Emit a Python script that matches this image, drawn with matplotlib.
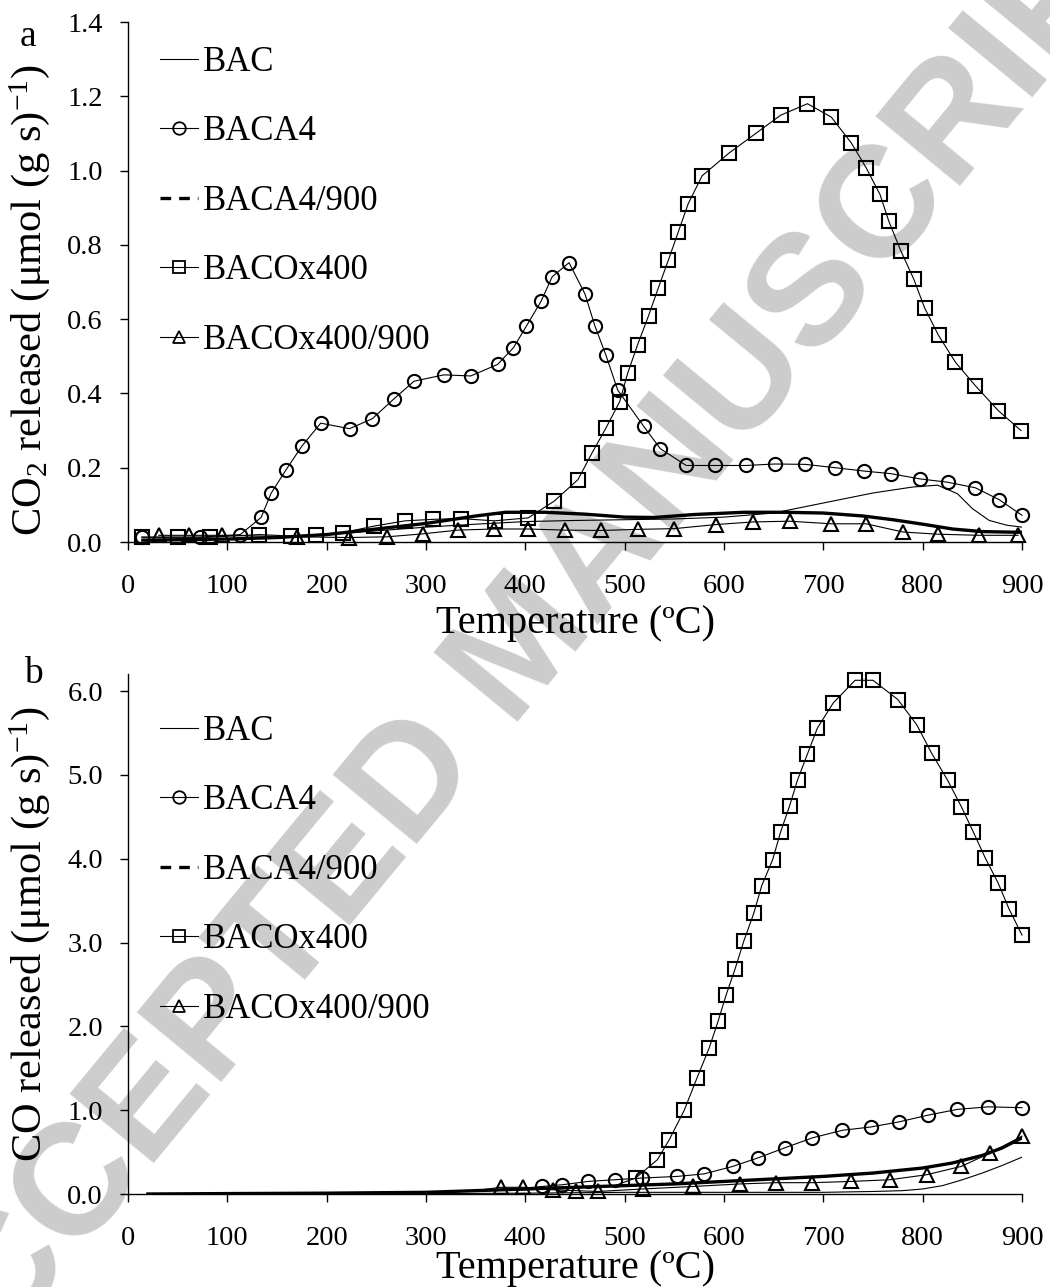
import matplotlib
matplotlib.use("Agg")
import matplotlib.pyplot as plt
from matplotlib.lines import Line2D
from matplotlib.ticker import FixedLocator, FormatStrFormatter

plt.rcParams['font.family'] = ['Liberation Serif', 'DejaVu Serif']
plt.rcParams['mathtext.fontset'] = 'custom'
plt.rcParams['mathtext.rm'] = 'Liberation Serif'
plt.rcParams['mathtext.it'] = 'Liberation Serif:italic'

# ---------------- Panel a (CO2) ----------------
a_bac_T = [15, 50, 100, 150, 200, 250, 300, 350, 400, 450, 500, 550, 600, 650, 700, 750, 790, 815, 835, 850, 867, 885, 900]
a_bac_v = [0.005, 0.006, 0.008, 0.012, 0.02, 0.03, 0.04, 0.048, 0.055, 0.058, 0.06, 0.062, 0.067, 0.078, 0.105, 0.132, 0.148, 0.153, 0.13, 0.09, 0.058, 0.045, 0.04]

a_baca4_T = [14, 72, 113, 134, 144, 159, 175, 194, 223, 246, 268, 288, 318, 345, 372, 388, 401, 416, 427, 444, 460, 470, 481, 493, 519, 536, 562, 591, 622, 651, 682, 712, 741, 768, 797, 825, 853, 877, 900]
a_baca4_v = [0.013, 0.013, 0.02, 0.066, 0.131, 0.194, 0.258, 0.320, 0.305, 0.332, 0.386, 0.433, 0.450, 0.447, 0.478, 0.523, 0.581, 0.649, 0.714, 0.752, 0.668, 0.582, 0.504, 0.409, 0.312, 0.251, 0.206, 0.206, 0.206, 0.210, 0.209, 0.200, 0.191, 0.184, 0.170, 0.161, 0.146, 0.114, 0.072]

a_baca4900_T = [15, 100, 150, 200, 250, 300, 350, 380, 420, 460, 500, 530, 570, 620, 660, 700, 740, 770, 800, 830, 860, 900]
a_baca4900_v = [0.005, 0.008, 0.012, 0.02, 0.035, 0.05, 0.07, 0.08, 0.08, 0.075, 0.067, 0.066, 0.074, 0.08, 0.08, 0.078, 0.07, 0.06, 0.048, 0.035, 0.028, 0.026]

a_bacox_T = [14, 50, 83, 132, 164, 189, 216, 248, 279, 307, 335, 369, 403, 429, 453, 467, 481, 495, 503, 513, 524, 534, 544, 554, 564, 578, 605, 632, 657, 684, 708, 728, 743, 757, 766, 778, 791, 802, 816, 833, 853, 876, 899]
a_bacox_v = [0.013, 0.013, 0.013, 0.02, 0.016, 0.02, 0.025, 0.043, 0.057, 0.061, 0.063, 0.057, 0.065, 0.110, 0.168, 0.239, 0.306, 0.378, 0.454, 0.531, 0.609, 0.685, 0.759, 0.835, 0.911, 0.986, 1.047, 1.100, 1.149, 1.180, 1.144, 1.075, 1.008, 0.936, 0.863, 0.784, 0.708, 0.630, 0.556, 0.484, 0.421, 0.354, 0.300]

a_bacox900_T = [31, 61, 95, 170, 222, 261, 297, 332, 368, 403, 440, 476, 513, 550, 592, 629, 666, 708, 743, 780, 815, 857, 896]
a_bacox900_v = [0.018, 0.018, 0.018, 0.014, 0.012, 0.014, 0.022, 0.032, 0.035, 0.035, 0.032, 0.031, 0.034, 0.036, 0.047, 0.054, 0.056, 0.049, 0.049, 0.027, 0.021, 0.018, 0.018]

# ---------------- Panel b (CO) ----------------
b_bac_T = [20, 200, 400, 500, 600, 700, 750, 780, 800, 820, 840, 860, 880, 900]
b_bac_v = [0.0, 0.0, 0.01, 0.02, 0.02, 0.02, 0.03, 0.04, 0.06, 0.1, 0.17, 0.25, 0.34, 0.44]

b_baca4_T = [20, 200, 300, 380, 417, 437, 463, 490, 517, 553, 580, 609, 634, 661, 689, 719, 748, 776, 805, 835, 866, 900]
b_baca4_v = [0.0, 0.01, 0.02, 0.05, 0.09, 0.11, 0.15, 0.17, 0.19, 0.21, 0.24, 0.33, 0.43, 0.55, 0.67, 0.76, 0.80, 0.86, 0.94, 1.01, 1.04, 1.03]
b_baca4_first_marker = 4

b_baca4900_T = [20, 100, 200, 300, 350, 400, 450, 500, 550, 600, 650, 700, 750, 800, 830, 860, 880, 900]
b_baca4900_v = [0.0, 0.005, 0.01, 0.02, 0.04, 0.06, 0.08, 0.1, 0.12, 0.15, 0.18, 0.21, 0.25, 0.31, 0.37, 0.46, 0.55, 0.67]

b_bacox_T = [20, 100, 200, 300, 400, 450, 490, 511, 533, 545, 560, 573, 585, 594, 602, 611, 620, 630, 638, 649, 657, 666, 674, 684, 694, 710, 732, 750, 775, 794, 809, 825, 839, 851, 863, 876, 887, 900]
b_bacox_v = [0.0, 0.0, 0.01, 0.02, 0.05, 0.07, 0.1, 0.19, 0.41, 0.65, 1.0, 1.39, 1.74, 2.06, 2.37, 2.68, 3.02, 3.35, 3.68, 3.99, 4.32, 4.63, 4.94, 5.25, 5.56, 5.86, 6.13, 6.13, 5.90, 5.60, 5.26, 4.94, 4.62, 4.32, 4.01, 3.71, 3.40, 3.09]
b_bacox_first_marker = 7

b_bacox900_T = [20, 200, 300, 350, 375, 398, 428, 451, 473, 518, 569, 616, 652, 689, 728, 767, 804, 839, 868, 900]
b_bacox900_v = [0.0, 0.01, 0.02, 0.04, 0.08, 0.08, 0.05, 0.04, 0.03, 0.06, 0.09, 0.12, 0.135, 0.135, 0.15, 0.17, 0.23, 0.33, 0.49, 0.69]
b_bacox900_first_marker = 4

labels = ['BAC', 'BACA4', 'BACA4/900', 'BACOx400', 'BACOx400/900']
x_ticks = [0, 100, 200, 300, 400, 500, 600, 700, 800, 900]
a_yticks = [0.0, 0.2, 0.4, 0.6, 0.8, 1.0, 1.2, 1.4]
b_yticks = [0.0, 1.0, 2.0, 3.0, 4.0, 5.0, 6.0]

W, H = 1050, 1287
fig = plt.figure(figsize=(W / 100, H / 100), dpi=100)

# watermark
fig.text(0.50, 0.495, 'ACCEPTED MANUSCRIPT', rotation=50.5, color='#cccccc',
         fontsize=114, fontweight='bold', family=['Liberation Sans', 'DejaVu Sans'],
         ha='center', va='center', zorder=-5, rotation_mode='anchor')

ax_a = fig.add_axes([128 / W, 1 - 542 / H, (1022 - 128) / W, 520 / H])
ax_b = fig.add_axes([128 / W, 1 - 1194 / H, (1022 - 128) / W, 520 / H])

mk = dict(mfc='none', mec='black', mew=1.5, ms=9.5, clip_on=False)
thin = 0.8
thick = 2.4


def draw(ax, d, firsts):
    (bT, bv), (cT, cv), (dT, dv), (sT, sv), (tT, tv) = d
    ax.plot(bT, bv, color='black', lw=thin)
    ax.plot(dT, dv, color='black', lw=thick)
    ax.plot(tT, tv, color='black', lw=thin, marker='^', markevery=slice(firsts[2], None), **mk)
    ax.plot(cT, cv, color='black', lw=thin, marker='o', markevery=slice(firsts[0], None), **mk)
    ax.plot(sT, sv, color='black', lw=thin, marker='s', markevery=slice(firsts[1], None), **mk)


draw(ax_a, [(a_bac_T, a_bac_v), (a_baca4_T, a_baca4_v), (a_baca4900_T, a_baca4900_v),
            (a_bacox_T, a_bacox_v), (a_bacox900_T, a_bacox900_v)], (0, 0, 0))
draw(ax_b, [(b_bac_T, b_bac_v), (b_baca4_T, b_baca4_v), (b_baca4900_T, b_baca4900_v),
            (b_bacox_T, b_bacox_v), (b_bacox900_T, b_bacox900_v)],
     (b_baca4_first_marker, b_bacox_first_marker, b_bacox900_first_marker))

lmk = dict(mfc='none', mec='black', mew=1.3, ms=9)
handles = [
    Line2D([], [], color='black', lw=thin),
    Line2D([], [], color='black', lw=thin, marker='o', **lmk),
    Line2D([], [], color='black', lw=thick, ls=(0, (3.2, 2.4))),
    Line2D([], [], color='black', lw=thin, marker='s', **lmk),
    Line2D([], [], color='black', lw=thin, marker='^', **lmk),
]

for ax, ylim, yt, ylabel, letter, lx, ly, leg_top, ylab_y, xlab_pad in [
    (ax_a, (0, 1.4), a_yticks, r'CO$_2$ released (μmol (g s)$^{\mathrm{-1}}$)', 'a', 28, 37, 46, 0.465, 4),
    (ax_b, (0, 6.205), b_yticks, r'CO released (μmol (g s)$^{\mathrm{-1}}$)', 'b', 33, 674, 715, 0.50, -1),
]:
    ax.set_facecolor('none')
    ax.set_xlim(0, 900)
    ax.set_ylim(*ylim)
    ax.xaxis.set_major_locator(FixedLocator(x_ticks))
    ax.yaxis.set_major_locator(FixedLocator(yt))
    ax.yaxis.set_major_formatter(FormatStrFormatter('%.1f'))
    for s in ('top', 'right'):
        ax.spines[s].set_visible(False)
    for s in ('left', 'bottom'):
        ax.spines[s].set_linewidth(1.0)
    ax.tick_params(axis='both', direction='out', length=6, width=1.0, labelsize=20.5, colors='black')
    ax.tick_params(axis='x', pad=17)
    ax.tick_params(axis='y', pad=12)
    ax.set_xlabel('Temperature (ºC)', fontsize=29, labelpad=xlab_pad)
    ax.set_ylabel(ylabel, fontsize=30.5)
    ax.yaxis.set_label_coords((52 - 128) / 894, ylab_y)
    fig.text(lx / W, 1 - ly / H, letter, fontsize=27, ha='center', va='center')
    ax.legend(handles, labels, loc='upper left',
              bbox_to_anchor=(160 / W, 1 - leg_top / H), bbox_transform=fig.transFigure,
              frameon=False, fontsize=25, handlelength=1.1, handletextpad=0.15,
              labelspacing=1.05, borderpad=0, borderaxespad=0)

fig.savefig('out.png', dpi=100)
